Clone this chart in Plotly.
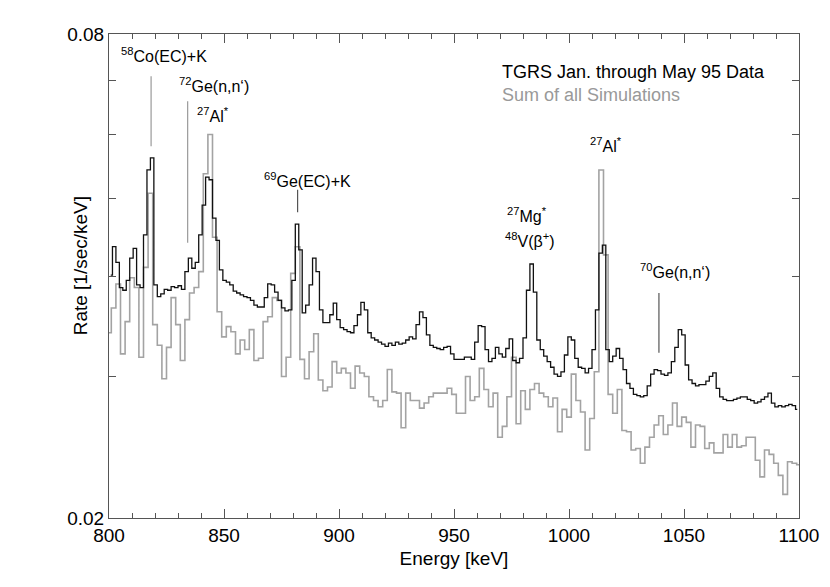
import numpy as np
import plotly.graph_objects as go

# TGRS measured spectrum, 1.5 keV bins starting at 800 keV
data_energy = np.arange(800.75, 1100, 1.5)
data_rate = [
    0.0401, 0.0435, 0.0416, 0.0387, 0.0384, 0.0395, 0.0421, 0.0433, 0.0390, 0.0387,
    0.0450, 0.0542, 0.0561, 0.0390, 0.0377, 0.0380, 0.0385, 0.0384, 0.0388, 0.0387,
    0.0389, 0.0385, 0.0405, 0.0421, 0.0409, 0.0416, 0.0450, 0.0490, 0.0531, 0.0527,
    0.0472, 0.0443, 0.0407, 0.0395, 0.0393, 0.0390, 0.0383, 0.0381, 0.0379, 0.0377,
    0.0376, 0.0373, 0.0368, 0.0366, 0.0366, 0.0376, 0.0391, 0.0390, 0.0382, 0.0373,
    0.0365, 0.0362, 0.0363, 0.0395, 0.0464, 0.0431, 0.0360, 0.0368, 0.0390, 0.0421,
    0.0405, 0.0363, 0.0350, 0.0350, 0.0358, 0.0370, 0.0353, 0.0345, 0.0343, 0.0341,
    0.0340, 0.0347, 0.0358, 0.0371, 0.0363, 0.0340, 0.0335, 0.0333, 0.0331, 0.0329,
    0.0327, 0.0330, 0.0328, 0.0331, 0.0329, 0.0330, 0.0333, 0.0336, 0.0334, 0.0348,
    0.0361, 0.0355, 0.0338, 0.0328, 0.0326, 0.0325, 0.0324, 0.0326, 0.0327, 0.0320,
    0.0315, 0.0315, 0.0315, 0.0317, 0.0317, 0.0315, 0.0331, 0.0347, 0.0346, 0.0324,
    0.0313, 0.0316, 0.0326, 0.0320, 0.0317, 0.0325, 0.0334, 0.0314, 0.0312, 0.0316,
    0.0335, 0.0384, 0.0414, 0.0382, 0.0333, 0.0324, 0.0318, 0.0313, 0.0308, 0.0302,
    0.0300, 0.0304, 0.0319, 0.0336, 0.0333, 0.0316, 0.0308, 0.0307, 0.0303, 0.0307,
    0.0324, 0.0363, 0.0427, 0.0437, 0.0324, 0.0313, 0.0318, 0.0325, 0.0316, 0.0306,
    0.0294, 0.0290, 0.0285, 0.0284, 0.0283, 0.0284, 0.0292, 0.0302, 0.0306, 0.0305,
    0.0302, 0.0301, 0.0303, 0.0313, 0.0326, 0.0343, 0.0338, 0.0310, 0.0297, 0.0294,
    0.0292, 0.0293, 0.0293, 0.0296, 0.0300, 0.0303, 0.0290, 0.0283, 0.0281, 0.0280,
    0.0280, 0.0281, 0.0282, 0.0283, 0.0283, 0.0281, 0.0280, 0.0278, 0.0279, 0.0281,
    0.0283, 0.0286, 0.0278, 0.0275, 0.0276, 0.0275, 0.0276, 0.0277, 0.0276, 0.0273,
]

# sum of all simulations, 2 keV bins
sim_energy = np.arange(800, 1101, 2)
sim_rate = [
    0.0340, 0.0365, 0.0391, 0.0320, 0.0351, 0.0398, 0.0387, 0.0317, 0.0410, 0.0507,
    0.0348, 0.0328, 0.0298, 0.0326, 0.0376, 0.0348, 0.0314, 0.0353, 0.0381, 0.0387,
    0.0405, 0.0536, 0.0600, 0.0447, 0.0361, 0.0336, 0.0346, 0.0341, 0.0320, 0.0333,
    0.0324, 0.0343, 0.0314, 0.0316, 0.0351, 0.0356, 0.0376, 0.0373, 0.0300, 0.0317,
    0.0403, 0.0435, 0.0315, 0.0298, 0.0322, 0.0339, 0.0297, 0.0288, 0.0291, 0.0313,
    0.0303, 0.0307, 0.0303, 0.0290, 0.0309, 0.0303, 0.0300, 0.0283, 0.0280, 0.0275,
    0.0280, 0.0306, 0.0287, 0.0286, 0.0259, 0.0286, 0.0280, 0.0280, 0.0274, 0.0278,
    0.0283, 0.0286, 0.0286, 0.0286, 0.0290, 0.0285, 0.0270, 0.0270, 0.0300, 0.0280,
    0.0283, 0.0307, 0.0289, 0.0275, 0.0286, 0.0252, 0.0260, 0.0283, 0.0317, 0.0262,
    0.0288, 0.0273, 0.0289, 0.0294, 0.0286, 0.0283, 0.0275, 0.0282, 0.0256, 0.0273,
    0.0267, 0.0302, 0.0280, 0.0271, 0.0243, 0.0266, 0.0304, 0.0542, 0.0425, 0.0285,
    0.0270, 0.0289, 0.0257, 0.0256, 0.0243, 0.0244, 0.0234, 0.0245, 0.0252, 0.0261,
    0.0268, 0.0254, 0.0261, 0.0278, 0.0260, 0.0267, 0.0263, 0.0245, 0.0261, 0.0260,
    0.0244, 0.0248, 0.0241, 0.0241, 0.0254, 0.0245, 0.0254, 0.0245, 0.0246, 0.0252,
    0.0252, 0.0236, 0.0225, 0.0243, 0.0240, 0.0234, 0.0226, 0.0214, 0.0235, 0.0234,
    0.0233,
]

# line identification markers: energy, y range, colour
marker_energy = [818.3, 834.2, 882.0, 1039.1]
marker_low = [0.0580, 0.0440, 0.0480, 0.0321]
marker_high = [0.0709, 0.0660, 0.0512, 0.0381]
marker_color = ['#999999', '#999999', '#555555', '#555555']

# peak labels: text, energy of centre, paper y
label_text = [
    '<sup>58</sup>Co(EC)+K',
    '<sup>72</sup>Ge(n,n‘)',
    '<sup>27</sup>Al<sup>*</sup>',
    '<sup>69</sup>Ge(EC)+K',
    '<sup>27</sup>Al<sup>*</sup>',
    '<sup>27</sup>Mg<sup>*</sup>',
    '<sup>48</sup>V(β<sup>+</sup>)',
    '<sup>70</sup>Ge(n,n‘)',
]
label_energy = [823.9, 845.7, 845.3, 886.5, 1016.1, 981.7, 983.0, 1046.0]
label_y = [0.957, 0.895, 0.833, 0.698, 0.771, 0.626, 0.574, 0.510]

y_major = [0.02, 0.08]
y_minor = [0.03, 0.04, 0.05, 0.06, 0.07]

FONT = 'Liberation Sans, Arial, Helvetica, sans-serif'
AXIS = '#555555'

fig = go.Figure()

fig.add_trace(go.Scatter(
    x=sim_energy, y=sim_rate, mode='lines', line_shape='hvh',
    line=dict(color='#a3a3a3', width=1.6), hoverinfo='skip'
))
fig.add_trace(go.Scatter(
    x=data_energy, y=data_rate, mode='lines', line_shape='hvh',
    line=dict(color='#111111', width=1.3), hoverinfo='skip'
))

for e, lo, hi, c in zip(marker_energy, marker_low, marker_high, marker_color):
    fig.add_trace(go.Scatter(
        x=[e, e], y=[lo, hi], mode='lines',
        line=dict(color=c, width=1.2), hoverinfo='skip'
    ))

for t, e, yp in zip(label_text, label_energy, label_y):
    fig.add_annotation(
        x=e, y=yp, xref='x', yref='paper', text=t, showarrow=False,
        font=dict(size=16, color='#000000', family=FONT),
        xanchor='center', yanchor='middle'
    )

fig.add_annotation(
    x=970, y=0.921, xref='x', yref='paper', text='TGRS Jan. through May 95 Data',
    showarrow=False, xanchor='left', yanchor='middle',
    font=dict(size=18, color='#000000', family=FONT)
)
fig.add_annotation(
    x=970, y=0.874, xref='x', yref='paper', text='Sum of all Simulations',
    showarrow=False, xanchor='left', yanchor='middle',
    font=dict(size=18, color='#999999', family=FONT)
)
# y title sits over the tick-label column, as in the original
fig.add_annotation(
    x=-0.042, y=0.52, xref='paper', yref='paper', text='Rate [1/sec/keV]',
    textangle=-90, showarrow=False, xanchor='center', yanchor='middle',
    font=dict(size=19, color='#000000', family=FONT)
)

fig.update_xaxes(
    range=[800, 1100], tickvals=[800, 850, 900, 950, 1000, 1050, 1100],
    ticks='inside', ticklen=9, tickcolor=AXIS, tickwidth=1,
    minor=dict(dtick=10, ticks='inside', ticklen=5, tickcolor=AXIS),
    showline=True, linecolor=AXIS, linewidth=1, mirror='ticks',
    showgrid=False, zeroline=False,
    title=dict(text='Energy [keV]', font=dict(size=19, family=FONT, color='#000000'),
               standoff=6),
    tickfont=dict(size=19, family=FONT, color='#000000'),
)
fig.update_yaxes(
    type='log', range=[np.log10(0.02), np.log10(0.08)],
    tickvals=y_major, ticktext=['0.02', '0.08'],
    ticks='inside', ticklen=7, tickcolor=AXIS, tickwidth=1,
    minor=dict(tickvals=y_minor, ticks='inside', ticklen=7, tickcolor=AXIS),
    showline=True, linecolor=AXIS, linewidth=1, mirror='ticks',
    showgrid=False, zeroline=False,
    tickfont=dict(size=19, family=FONT, color='#000000'),
)

# page body has an 8px margin, so the figure is drawn 8px in
fig.update_layout(
    width=822, height=579,
    margin=dict(l=101, r=31, t=26, b=69),
    paper_bgcolor='white', plot_bgcolor='white',
    showlegend=False,
    font=dict(family=FONT),
)

fig.write_html('out.html')
